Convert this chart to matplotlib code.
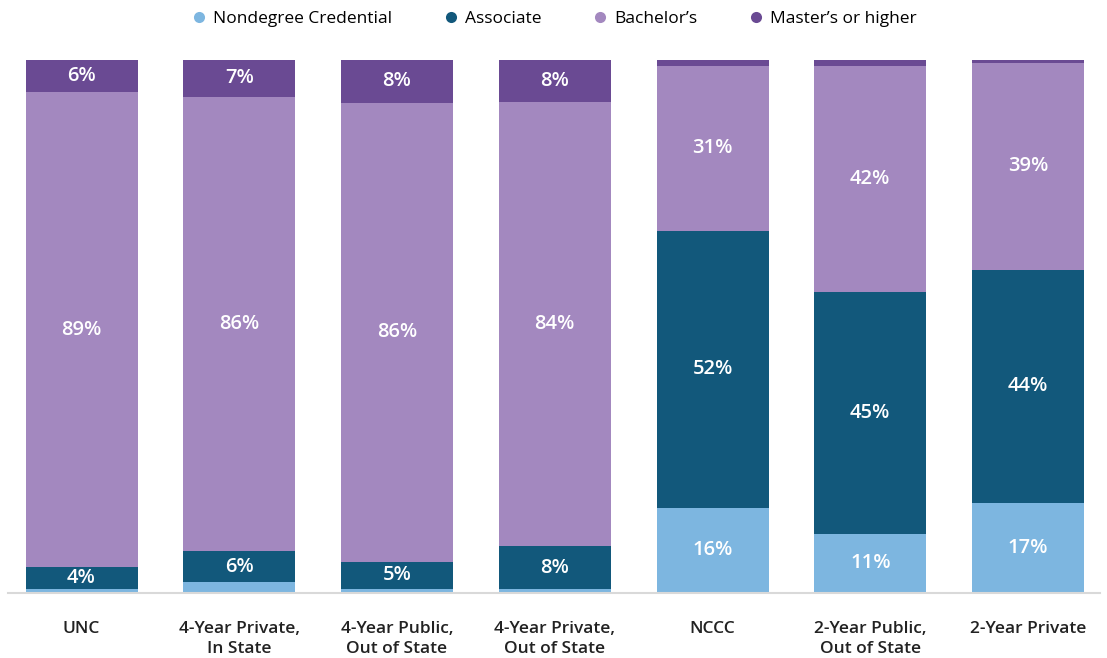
import matplotlib
matplotlib.use("Agg")
import matplotlib.pyplot as plt
import numpy as np

plt.rcParams['font.family'] = ['Open Sans', 'DejaVu Sans']

categories = ["UNC", "4-Year Private,\nIn State", "4-Year Public,\nOut of State",
              "4-Year Private,\nOut of State", "NCCC", "2-Year Public,\nOut of State",
              "2-Year Private"]
series_names = ["Nondegree Credential", "Associate", "Bachelor\u2019s", "Master\u2019s or higher"]
nondegree = [0.8, 2, 0.8, 0.8, 16, 11, 17]
associate = [4, 6, 5, 8, 52, 45, 44]
bachelor = [89, 86, 86, 84, 31, 42, 39]
masters = [6, 7, 8, 8, 1.1, 1.1, 0.6]
show_label = [
    [False, False, False, False, True, True, True],
    [True] * 7,
    [True] * 7,
    [True, True, True, True, False, False, False],
]

colors = ["#7db6e0", "#12587b", "#a388bf", "#6a4a93"]

data = np.array([nondegree, associate, bachelor, masters], dtype=float)
shares = data / data.sum(axis=0)

fig = plt.figure(figsize=(11.07, 6.58), dpi=100)
ax = fig.add_axes([8 / 1107, 1 - 593 / 658, 1092 / 1107, 533 / 658])

x = np.arange(len(categories))
bottom = np.zeros(len(categories))
for i, name in enumerate(series_names):
    ax.bar(x, shares[i], width=0.71, bottom=bottom, color=colors[i], label=name,
           edgecolor="none")
    for j in range(len(categories)):
        if show_label[i][j]:
            ax.text(x[j], bottom[j] + shares[i][j] / 2, f"{data[i][j]:.0f}%",
                    ha="center", va="center", color="white", fontsize=14.5,
                    fontweight="semibold")
    bottom += shares[i]

ax.set_xlim(-0.466, 6.456)
ax.set_ylim(0, 1)
ax.set_yticks([])
ax.set_xticks(x)
ax.set_xticklabels(categories, fontsize=12.5, color="#222222", fontweight="semibold",
                   linespacing=1.35, va="top")
ax.tick_params(axis="x", length=0, pad=20)
for s in ["top", "right", "left"]:
    ax.spines[s].set_visible(False)
ax.spines["bottom"].set_color("#d9d9d9")
ax.spines["bottom"].set_linewidth(1.5)

handles = [plt.Line2D([0], [0], marker="o", linestyle="none", markersize=8,
                      markerfacecolor=c, markeredgecolor="none") for c in colors]
fig.legend(handles, series_names, loc="center", bbox_to_anchor=(0.5, 1 - 19 / 658),
           ncol=4, frameon=False, handletextpad=0.3,
           columnspacing=2.9, handlelength=1.0, prop={"weight": "medium", "size": 12.5})

fig.savefig("out.png", dpi=100, facecolor="white")
